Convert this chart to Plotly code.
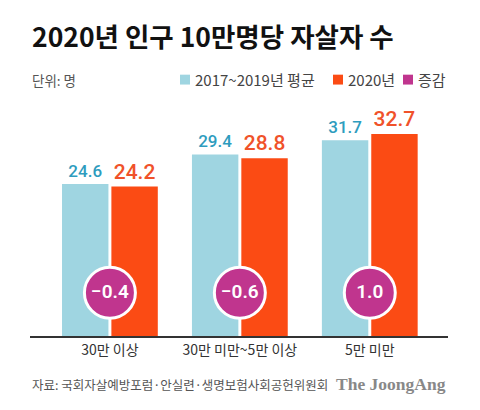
import plotly.graph_objects as go

# 데이터
categories = ["30만 이상", "30만 미만~5만 이상", "5만 미만"]
avg_2017_2019 = [24.6, 29.4, 31.7]
rate_2020 = [24.2, 28.8, 32.7]
change = [-0.4, -0.6, 1.0]

FONT = "Noto Sans CJK KR"
NUM_FONT = "Roboto"
BLUE = "#9FD5E1"
ORANGE = "#FB4B14"
PINK = "#C0358E"
BUBBLE_Y = 7  # 증감 원 위치 (y축 값)

fig = go.Figure()
fig.add_trace(go.Bar(
    x=categories, y=avg_2017_2019, name="2017~2019년 평균",
    marker=dict(color=BLUE, line=dict(width=0)),
    text=[f"{v:.1f}" for v in avg_2017_2019], textposition="outside",
    textfont=dict(family=NUM_FONT, size=17, color="#2E9CBE", weight=500),
    cliponaxis=False,
))
fig.add_trace(go.Bar(
    x=categories, y=rate_2020, name="2020년",
    marker=dict(color=ORANGE, line=dict(width=0)),
    text=[f"{v:.1f}" for v in rate_2020], textposition="outside",
    textfont=dict(family=NUM_FONT, size=21, color="#F0522A", weight=500),
    cliponaxis=False,
))
fig.add_trace(go.Scatter(
    x=categories, y=[BUBBLE_Y] * len(categories),
    mode="markers+text",
    marker=dict(size=51, color=PINK, line=dict(color="white", width=3)),
    text=[f"{v:.1f}".replace("-", "−") for v in change],
    textposition="middle center",
    textfont=dict(family=NUM_FONT, size=19, color="white", weight=600),
    showlegend=False, cliponaxis=False,
))

fig.update_layout(
    width=480, height=410,
    margin=dict(l=22, r=40, t=81, b=82),
    paper_bgcolor="white", plot_bgcolor="white",
    showlegend=False,
    barmode="group", bargap=0.24, bargroupgap=0.06,
    font=dict(family=FONT, color="#333"),
    xaxis=dict(
        range=[-0.615, 2.602], showgrid=False, zeroline=False,
        showline=True, linecolor="#333", linewidth=1.5,
        ticks="", tickfont=dict(family=FONT, size=14, color="#333"),
        fixedrange=True,
    ),
    yaxis=dict(range=[0, 40], visible=False, fixedrange=True),
)

# 제목, 단위, 출처
fig.add_annotation(text="<b>2020년 인구 10만명당 자살자 수</b>", xref="paper", yref="paper",
                   x=0, y=1.218, xanchor="left", yanchor="middle", showarrow=False,
                   font=dict(family=FONT, size=26.5, color="#111"))
fig.add_annotation(text="단위: 명", xref="paper", yref="paper",
                   x=0, y=1.038, xanchor="left", yanchor="middle", showarrow=False,
                   font=dict(family=FONT, size=13.5, color="#555"))
fig.add_annotation(text="자료: 국회자살예방포럼·안실련·생명보험사회공헌위원회", xref="paper", yref="paper",
                   x=0, y=-0.195, xanchor="left", yanchor="middle", showarrow=False,
                   font=dict(family=FONT, size=12.5, color="#555"))
fig.add_annotation(text="<b>The JoongAng</b>", xref="paper", yref="paper",
                   x=1.0, y=-0.195, xanchor="right", yanchor="middle", showarrow=False,
                   font=dict(family="Liberation Serif", size=17.5, color="#888"))

# 범례 (사각형 + 텍스트), px는 그림 왼쪽 기준 위치
legend_items = [("2017~2019년 평균", BLUE, 180), ("2020년", ORANGE, 333), ("증감", PINK, 403)]
for label, color, px in legend_items:
    x0 = (px - 30) / 418
    x1 = (px + 10 - 30) / 418
    fig.add_shape(type="rect", xref="paper", yref="paper",
                  x0=x0, x1=x1, y0=1.018, y1=1.058,
                  fillcolor=color, line=dict(width=0))
    fig.add_annotation(text=label, xref="paper", yref="paper",
                       x=x1 + 3 / 418, y=1.038, xanchor="left", yanchor="middle",
                       showarrow=False, font=dict(family=FONT, size=15, color="#444"))

fig.write_html("out.html")
